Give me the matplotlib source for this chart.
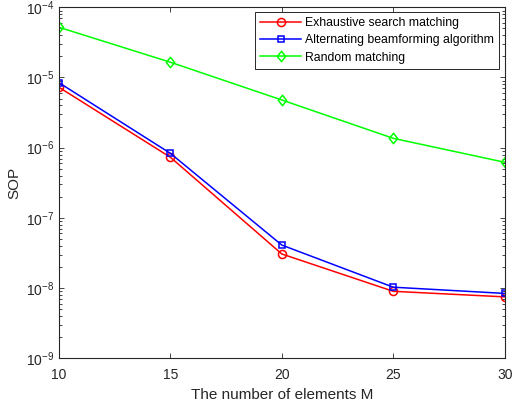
import matplotlib
matplotlib.use("Agg")
import matplotlib.pyplot as plt
from matplotlib.ticker import LogLocator, FixedLocator, NullFormatter
from matplotlib.path import Path

plt.rcParams['font.family'] = ['Liberation Sans', 'DejaVu Sans']

M = [10, 15, 20, 25, 30]
exhaustive = [7.25e-6, 7.3e-7, 3.06e-8, 9.0e-9, 7.5e-9]
alternating = [8.43e-6, 8.3e-7, 4.1e-8, 1.03e-8, 8.4e-9]
random_match = [5.19e-5, 1.65e-5, 4.78e-6, 1.36e-6, 6.2e-7]
labels = ["Exhaustive search matching", "Alternating beamforming algorithm", "Random matching"]

diamond = Path([(0, 1), (0.8, 0), (0, -1), (-0.8, 0), (0, 1)],
               [Path.MOVETO, Path.LINETO, Path.LINETO, Path.LINETO, Path.CLOSEPOLY])

fig = plt.figure(figsize=(5.14, 4.04), dpi=100)
ax = fig.add_axes([59/514, 1-358.3/404, (504.7-59)/514, (358.3-7.3)/404])

ax.plot(M, exhaustive, color='red', marker='o', mfc='none', ms=5.8, lw=1.1, mew=1.1, label=labels[0])
ax.plot(M, alternating, color='blue', marker='s', mfc='none', ms=4.8, lw=1.1, mew=1.1, label=labels[1])
ax.plot(M, random_match, color=(0, 1, 0), marker=diamond, mfc='none', ms=7.5, lw=1.1, mew=1.1, label=labels[2])

ax.set_yscale('log')
ax.set_xlim(10, 30)
ax.set_ylim(1e-9, 1e-4)
ax.set_xticks([10, 15, 20, 25, 30])
ax.yaxis.set_major_locator(FixedLocator([1e-9, 1e-8, 1e-7, 1e-6, 1e-5, 1e-4]))
ax.yaxis.set_minor_locator(LogLocator(base=10, subs=range(2, 10), numticks=20))
ax.yaxis.set_minor_formatter(NullFormatter())

ax.tick_params(which='both', direction='in', top=True, right=True, labelsize=10, colors='#262626', width=0.6)
ax.tick_params(which='major', length=3.6)
ax.tick_params(which='minor', length=2.2)
ax.tick_params(axis='x', which='major', pad=7)
for s in ax.spines.values():
    s.set_color('#262626')
    s.set_linewidth(0.8)

ax.set_xlabel("The number of elements M", fontsize=11, color='#262626', labelpad=4)
ax.set_ylabel("SOP", fontsize=11, color='#262626', labelpad=3)

leg = ax.legend(loc='upper right', bbox_to_anchor=(1 - (504.7-499.3)/445.7, 1 - (12.3-7.3)/351), fontsize=8.8,
                fancybox=False, edgecolor='#262626', framealpha=1, borderpad=0.4, labelspacing=0.43,
                handlelength=3.4, handletextpad=0.33, borderaxespad=0)
leg.get_frame().set_linewidth(0.7)

fig.savefig("out.png", dpi=100)
